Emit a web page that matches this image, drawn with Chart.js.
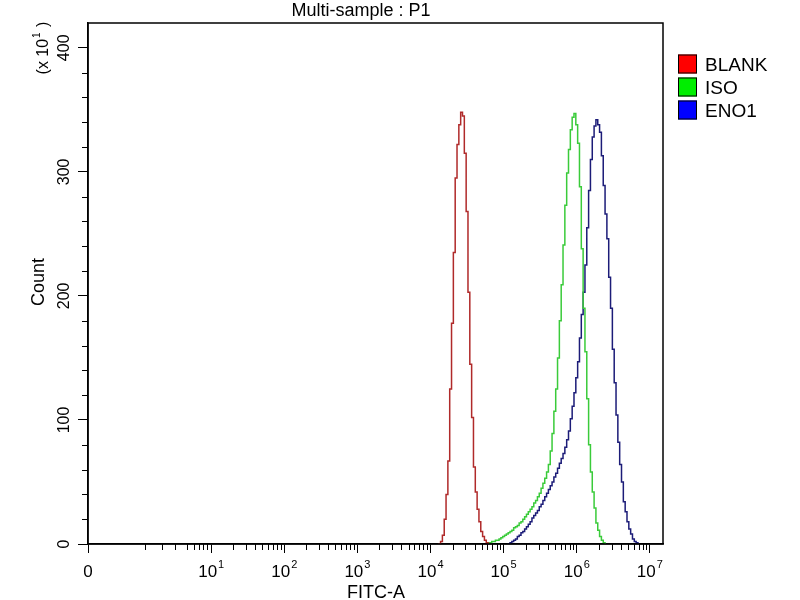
<!DOCTYPE html>
<html><head><meta charset="utf-8">
<script src="https://cdn.jsdelivr.net/npm/chart.js@4/dist/chart.umd.min.js"></script>
<style>html,body{margin:0;padding:0;background:#fff}#wrap{width:800px;height:600px;position:relative}</style>
</head><body><div id="wrap"><canvas id="c"></canvas></div>
<script>
const chartTitle = 'Multi-sample : P1';
const xAxisTitle = 'FITC-A';
const yAxisTitle = 'Count';
const yMultiplierBase = '(x 10';
const yMultiplierExp = '1';
const seriesNames = ['BLANK', 'ISO', 'ENO1'];

// histogram bin positions, in decades (log10 of FITC-A)
const fitcBins = [
  4.100,4.125,4.150,4.175,4.200,4.225,4.250,4.275,4.300,4.325,
  4.350,4.375,4.400,4.425,4.450,4.475,4.500,4.525,4.550,4.575,
  4.600,4.625,4.650,4.675,4.700,4.725,4.750,4.775,4.800,4.825,
  4.850,4.875,4.900,4.925,4.950,4.975,5.000,5.025,5.050,5.075,
  5.100,5.125,5.150,5.175,5.200,5.225,5.250,5.275,5.300,5.325,
  5.350,5.375,5.400,5.425,5.450,5.475,5.500,5.525,5.550,5.575,
  5.600,5.625,5.650,5.675,5.700,5.725,5.750,5.775,5.800,5.825,
  5.850,5.875,5.900,5.925,5.950,5.975,6.000,6.025,6.050,6.075,
  6.100,6.125,6.150,6.175,6.200,6.225,6.250,6.275,6.300,6.325,
  6.350,6.375,6.400,6.425,6.450,6.475,6.500,6.525,6.550,6.575,
  6.600,6.625,6.650,6.675,6.700,6.725,6.750,6.775,6.800,6.825,
  6.850
];

// counts in units of x10 events
const blankFirstBin = 4.100;
const blankCounts = [0,0,2,7,20,40,67,125,178,235,295,322,338,348,345,315,268,203,145,102,62,42,28,18,10,6,3,1,0];

const isoFirstBin = 4.775;
const isoCounts = [0,1,1,2,2,3,3,4,5,6,7,8,9,10,11,13,14,15,17,18,20,22,24,26,28,30,33,35,38,41,45,49,53,58,64,75,89,107,125,150,180,209,241,273,299,318,334,344,347,338,323,288,238,190,155,117,80,58,42,29,17,11,6,3,1,0];

const eno1FirstBin = 5.050;
const eno1Counts = [0,0,1,2,3,4,6,7,9,10,12,14,16,18,21,23,25,27,30,32,35,38,41,44,47,50,54,57,61,65,69,73,78,84,91,101,111,122,134,147,166,185,203,225,255,285,310,328,337,342,338,332,313,289,266,246,215,190,157,130,104,82,64,50,34,26,18,12,8,4,2,1,0];

// axes
const xDecadeMin = -0.685;   // position of the "0" label
const xDecadeMax = 7.18;
const xMajorTicks = [-0.685, 1, 2, 3, 4, 5, 6, 7];
const xTickBase = ['0', '10', '10', '10', '10', '10', '10', '10'];
const xTickExp = ['', '1', '2', '3', '4', '5', '6', '7'];
const xFirstDecadeMinor = [0.10, 0.33, 0.51, 0.67, 0.76, 0.83, 0.89, 0.94];
const yMax = 420;
const yMajorTicks = [0, 100, 200, 300, 400];
const yMinorStep = 20;

const lineColors = ['#b02a2a', '#3acb3a', '#1c1c78'];
const legendColors = ['#ff0000', '#00ee00', '#0000ff'];

const FONT = '"Liberation Sans", Arial, sans-serif';

function toPoints(firstBin, counts) {
  const start = fitcBins.findIndex(b => Math.abs(b - firstBin) < 1e-9);
  return counts.map((c, i) => ({ x: fitcBins[start + i], y: c }));
}

const xMinor = [...xFirstDecadeMinor];
for (let d = 1; d <= 6; d++) for (let m = 2; m <= 9; m++) xMinor.push(d + Math.log10(m));
const yMinor = [];
for (let v = yMinorStep; v < yMax; v += yMinorStep) if (v % 100 !== 0) yMinor.push(v);

const overlay = {
  id: 'overlay',
  afterDraw(chart) {
    const ctx = chart.ctx, a = chart.chartArea;
    const xs = chart.scales.x, ys = chart.scales.y;
    ctx.save();
    ctx.strokeStyle = '#000';
    ctx.lineWidth = 1.5;
    ctx.strokeRect(a.left, a.top, a.right - a.left, a.bottom - a.top);
    // minor ticks
    ctx.lineWidth = 1;
    ctx.beginPath();
    xMinor.forEach(v => {
      const p = Math.round(xs.getPixelForValue(v)) + 0.5;
      ctx.moveTo(p, a.bottom); ctx.lineTo(p, a.bottom + 6);
    });
    yMinor.forEach(v => {
      const p = Math.round(ys.getPixelForValue(v)) + 0.5;
      ctx.moveTo(a.left, p); ctx.lineTo(a.left - 6, p);
    });
    ctx.stroke();

    ctx.fillStyle = '#000';
    ctx.textBaseline = 'alphabetic';
    // x tick labels with superscripts
    xMajorTicks.forEach((v, i) => {
      const px = xs.getPixelForValue(v);
      ctx.font = '17px ' + FONT;
      const bw = ctx.measureText(xTickBase[i]).width;
      ctx.font = '11px ' + FONT;
      const sw = xTickExp[i] ? ctx.measureText(xTickExp[i]).width + 1 : 0;
      const x0 = px - (bw + sw) / 2;
      ctx.textAlign = 'left';
      ctx.font = '17px ' + FONT;
      ctx.fillText(xTickBase[i], x0, 577);
      if (xTickExp[i]) {
        ctx.font = '11px ' + FONT;
        ctx.fillText(xTickExp[i], x0 + bw + 1, 568);
      }
    });

    // x axis title
    ctx.textAlign = 'center';
    ctx.font = '18px ' + FONT;
    ctx.fillText(xAxisTitle, 376, 598);

    // chart title
    ctx.font = '18px ' + FONT;
    ctx.fillText(chartTitle, 361, 16);

    // y axis title (rotated)
    ctx.save();
    ctx.translate(44, 282);
    ctx.rotate(-Math.PI / 2);
    ctx.font = '18px ' + FONT;
    ctx.textAlign = 'center';
    ctx.fillText(yAxisTitle, 0, 0);
    ctx.restore();

    // multiplier (x 10^1)
    ctx.save();
    ctx.translate(48, 48);
    ctx.rotate(-Math.PI / 2);
    ctx.font = '16px ' + FONT;
    const w1 = ctx.measureText(yMultiplierBase).width;
    ctx.font = '10px ' + FONT;
    const w2 = ctx.measureText(yMultiplierExp).width + 2;
    ctx.font = '16px ' + FONT;
    const w3 = ctx.measureText(' )').width;
    let sx = -(w1 + w2 + w3) / 2;
    ctx.textAlign = 'left';
    ctx.fillText(yMultiplierBase, sx, 0);
    ctx.font = '10px ' + FONT;
    ctx.fillText(yMultiplierExp, sx + w1 + 1, -8);
    ctx.font = '16px ' + FONT;
    ctx.fillText(' )', sx + w1 + w2, 0);
    ctx.restore();

    // legend
    ctx.font = '19px ' + FONT;
    ctx.textAlign = 'left';
    ctx.textBaseline = 'middle';
    seriesNames.forEach((name, i) => {
      const cy = 64 + i * 23;
      ctx.fillStyle = legendColors[i];
      ctx.fillRect(678, cy - 9.5, 19, 19);
      ctx.strokeStyle = '#000';
      ctx.lineWidth = 1;
      ctx.strokeRect(678.5, cy - 9, 18, 18);
      ctx.fillStyle = '#000';
      ctx.fillText(name, 705, cy + 2);
    });
    ctx.restore();
  }
};

new Chart(document.getElementById('c'), {
  type: 'line',
  data: {
    datasets: [
      { label: seriesNames[0], data: toPoints(blankFirstBin, blankCounts), borderColor: lineColors[0] },
      { label: seriesNames[1], data: toPoints(isoFirstBin, isoCounts), borderColor: lineColors[1] },
      { label: seriesNames[2], data: toPoints(eno1FirstBin, eno1Counts), borderColor: lineColors[2] }
    ].map(d => Object.assign(d, { borderWidth: 1.5, pointRadius: 0, stepped: 'middle', fill: false, tension: 0 }))
  },
  options: {
    animation: false,
    responsive: true,
    maintainAspectRatio: false,
    devicePixelRatio: 1,
    layout: { padding: { left: 0, top: 23, right: 137, bottom: 0 } },
    plugins: { legend: { display: false }, title: { display: false }, tooltip: { enabled: false } },
    scales: {
      x: {
        type: 'linear',
        min: xDecadeMin,
        max: xDecadeMax,
        afterBuildTicks: s => { s.ticks = xMajorTicks.map(v => ({ value: v })); },
        afterFit: s => { s.height = 56; },
        ticks: { display: false },
        grid: { drawOnChartArea: false, drawTicks: true, tickLength: 9, color: '#000', lineWidth: 1 },
        border: { display: true, color: '#000', width: 1.5 }
      },
      y: {
        type: 'linear',
        min: 0,
        max: yMax,
        afterBuildTicks: s => { s.ticks = yMajorTicks.map(v => ({ value: v })); },
        afterFit: s => { s.width = 88; },
        ticks: {
          minRotation: 90, maxRotation: 90, crossAlign: 'center', padding: 0,
          color: '#000', font: { size: 16, family: FONT },
          callback: v => String(v)
        },
        grid: { drawOnChartArea: false, drawTicks: true, tickLength: 10, color: '#000', lineWidth: 1 },
        border: { display: true, color: '#000', width: 1.5 }
      }
    }
  },
  plugins: [overlay]
});
</script>
</body></html>
